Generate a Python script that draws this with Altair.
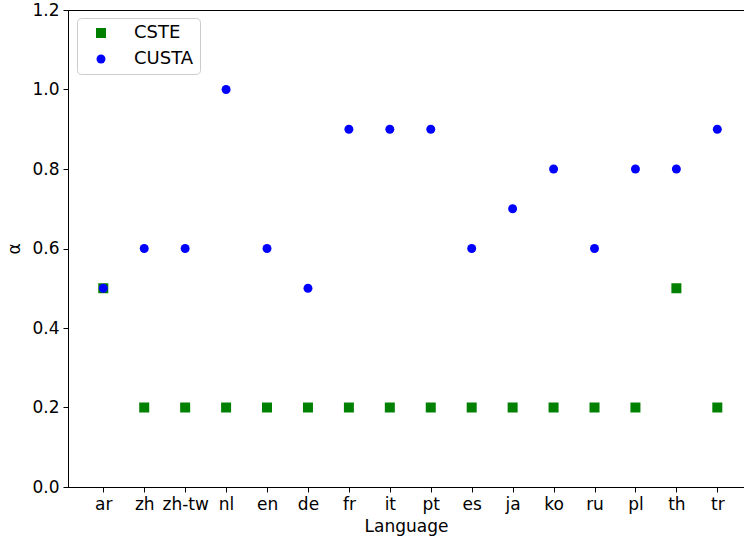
import altair as alt
import pandas as pd

languages = ["ar", "zh", "zh-tw", "nl", "en", "de", "fr", "it", "pt", "es",
             "ja", "ko", "ru", "pl", "th", "tr"]
cste = [0.5, 0.2, 0.2, 0.2, 0.2, 0.2, 0.2, 0.2, 0.2, 0.2, 0.2, 0.2, 0.2, 0.2, 0.5, 0.2]
custa = [0.5, 0.6, 0.6, 1.0, 0.6, 0.5, 0.9, 0.9, 0.9, 0.6, 0.7, 0.8, 0.6, 0.8, 0.8, 0.9]
series = ["CSTE", "CUSTA"]
y_ticks = [0.0, 0.2, 0.4, 0.6, 0.8, 1.0, 1.2]

rows = []
for s, vals in zip(series, [cste, custa]):
    for i, (lang, v) in enumerate(zip(languages, vals)):
        rows.append({"idx": i, "lang": lang, "alpha": v, "method": s})
df = pd.DataFrame(rows)

label_expr = "[" + ",".join(f"'{l}'" for l in languages) + "][datum.value]"

FONT = "DejaVu Sans"

chart = alt.Chart(df).mark_point(filled=True, opacity=1, strokeWidth=0).encode(
    x=alt.X("idx:Q",
            scale=alt.Scale(domain=[-0.862, 15.652], nice=False, zero=False),
            axis=alt.Axis(title="Language", values=list(range(len(languages))),
                          labelExpr=label_expr, grid=False)),
    y=alt.Y("alpha:Q",
            scale=alt.Scale(domain=[0, 1.2], nice=False),
            axis=alt.Axis(title="α", values=y_ticks, format=".1f", grid=False)),
    color=alt.Color("method:N",
                    scale=alt.Scale(domain=series, range=["#008000", "#0000ff"]),
                    legend=alt.Legend(title=None, orient="none", legendX=9, legendY=8,
                                      fillColor="white", strokeColor="#cccccc",
                                      cornerRadius=4, padding=6,
                                      labelFont=FONT, labelFontSize=18,
                                      labelColor="black", labelOffset=24,
                                      symbolOffset=9, rowPadding=8,
                                      symbolSize=100, symbolStrokeWidth=0)),
    shape=alt.Shape("method:N",
                    scale=alt.Scale(domain=series, range=["square", "circle"]),
                    legend=None),
    size=alt.Size("method:N",
                  scale=alt.Scale(domain=series, range=[100, 80]),
                  legend=None),
).properties(
    width=676, height=477,
    padding={"left": 68, "top": 10, "right": 0, "bottom": 53},
    autosize=alt.AutoSizeParams(type="none"),
).configure_view(
    stroke="black", strokeWidth=1
).configure_axis(
    labelFont=FONT, labelFontSize=17, labelColor="black",
    titleFont=FONT, titleFontSize=17, titleColor="black", titleFontWeight="normal",
    domainColor="black", tickColor="black", tickSize=5, labelPadding=4,
).configure_axisX(
    titlePadding=6
).configure_axisY(
    titlePadding=8
)

chart.save("out.html", embed_options={"renderer": "svg", "actions": False})
